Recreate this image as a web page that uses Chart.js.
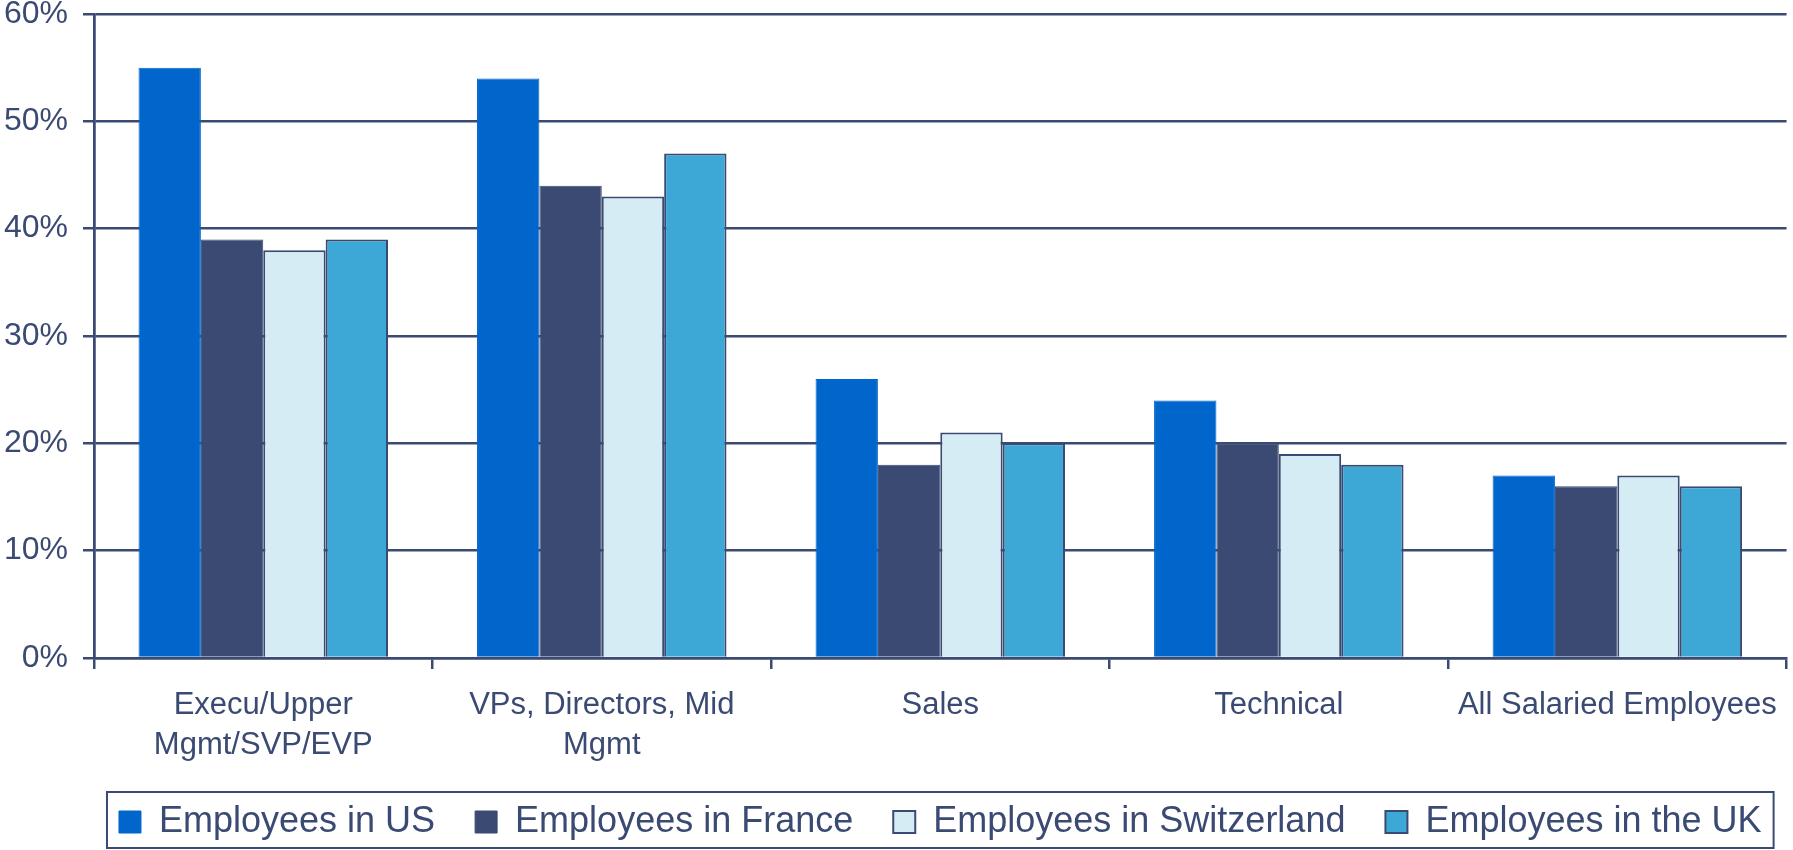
<!DOCTYPE html>
<html>
<head>
<meta charset="utf-8">
<script src="https://cdn.jsdelivr.net/npm/chart.js@4"></script>
<style>
  body { margin: 0; background: #fff; }
  canvas { display: block; }
</style>
</head>
<body>
<canvas id="myChart" width="1793" height="850"></canvas>
<script>
const navy = "#3B4A73";

const categories = [
  ["Execu/Upper", "Mgmt/SVP/EVP"],
  ["VPs, Directors, Mid", "Mgmt"],
  "Sales",
  "Technical",
  "All Salaried Employees",
];
const usValues = [55, 54, 26, 24, 17];
const franceValues = [39, 44, 18, 20, 16];
const swissValues = [38, 43, 21, 19, 17];
const ukValues = [39, 47, 20, 18, 16];
const yTicks = [0, 10, 20, 30, 40, 50, 60];

// legend is centred under the plot area, with a frame round it
const legendBox = {
  id: "legendBox",
  afterLayout(chart) {
    const lg = chart.legend;
    const shift = (chart.chartArea.left + chart.chartArea.right) / 2 - (lg.left + lg.right) / 2;
    lg.left += shift;
    lg.right += shift;
  },
  afterDraw(chart) {
    const lg = chart.legend;
    if (!lg || !lg.lineWidths) return;
    const pad = lg.options.labels.padding;
    const mid = (lg.left + lg.right) / 2;
    const half = (lg.lineWidths[0] - pad) / 2 + 12;
    const c = chart.ctx;
    c.save();
    c.strokeStyle = navy;
    c.lineWidth = 2;
    c.strokeRect(mid - half, 792, half * 2, 56);
    c.restore();
  },
};

new Chart(document.getElementById("myChart"), {
  type: "bar",
  data: {
    labels: categories,
    datasets: [
      {
        label: "Employees in US",
        data: usValues,
        backgroundColor: "#0066CC",
        borderColor: "#0066CC",
        borderWidth: 1,
      },
      {
        label: "Employees in France",
        data: franceValues,
        backgroundColor: "#3A4A72",
        borderColor: navy,
        borderWidth: 1,
      },
      {
        label: "Employees in Switzerland",
        data: swissValues,
        backgroundColor: "#D6ECF5",
        borderColor: navy,
        borderWidth: 2,
      },
      {
        label: "Employees in the UK",
        data: ukValues,
        backgroundColor: "#3DA7D6",
        borderColor: navy,
        borderWidth: 2,
      },
    ],
  },
  options: {
    responsive: false,
    animation: false,
    layout: { padding: { top: 14, right: 3, left: 0, bottom: 0 } },
    datasets: {
      bar: { categoryPercentage: 0.737, barPercentage: 1 },
    },
    plugins: {
      tooltip: { enabled: false },
      legend: {
        position: "bottom",
        labels: {
          color: navy,
          font: { family: "Liberation Sans, Arial", size: 36 },
          boxWidth: 22,
          boxHeight: 22,
          padding: 40,
        },
      },
    },
    scales: {
      x: {
        afterFit(scale) {
          scale.height = 106;
        },
        grid: {
          offset: true,
          lineWidth: 2.5,
          color: (ctx) => (ctx.index === 0 || ctx.index === 5 ? navy : "rgba(0,0,0,0)"),
          tickColor: navy,
          tickLength: 11,
        },
        border: { color: navy, width: 2.5 },
        ticks: {
          color: navy,
          padding: 16,
          maxRotation: 0,
          autoSkip: false,
          font: { family: "Liberation Sans, Arial", size: 31, lineHeight: 1.3 },
        },
      },
      y: {
        min: 0,
        max: 60,
        afterFit(scale) {
          scale.width = 94;
          scale.paddingTop = 0;
          scale.paddingBottom = 0;
        },
        afterBuildTicks(scale) {
          scale.ticks = yTicks.map((v) => ({ value: v }));
        },
        grid: {
          color: navy,
          lineWidth: 2.5,
          tickLength: 11,
        },
        border: { color: navy, width: 2.5 },
        ticks: {
          color: navy,
          padding: 15,
          font: { family: "Liberation Sans, Arial", size: 32 },
          callback: (v) => v + "%",
        },
      },
    },
  },
  plugins: [legendBox],
});
</script>
</body>
</html>
